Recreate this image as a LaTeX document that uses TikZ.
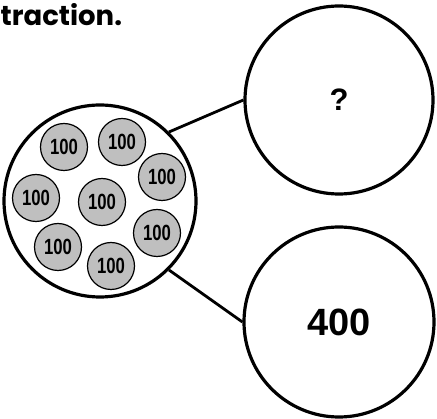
\documentclass[tikz,border=0pt]{standalone}
\usepackage{fontspec}
\usepackage{graphicx}
\newfontfamily\titlefont{Poppins}
\newfontfamily\numfont{Liberation Sans}
\tikzset{
  bigcircle/.style={circle, draw=black, line width=3.2pt, minimum size=#1, inner sep=0pt},
  coin/.style={circle, draw=black, line width=1.2pt, fill=black!25, minimum size=47pt, inner sep=0pt,
     font=\numfont\bfseries\fontsize{22}{22}\selectfont},
  link/.style={draw=black, line width=2.8pt},
}
\newcommand{\hund}{\scalebox{0.76}[1]{100}}
\begin{document}
\begin{tikzpicture}[x=1pt,y=-1pt]
\useasboundingbox (0,0) rectangle (437,419);
\clip (0,0) rectangle (437,419);
\fill[white] (0,0) rectangle (437,419);
\node[anchor=base west, inner sep=0pt, font=\titlefont\bfseries\fontsize{27.5}{28}\selectfont] (title) at (0.5,26) {traction.};
\node[bigcircle=192pt] (whole) at (100,201) {};
\node[bigcircle=188pt, font=\numfont\bfseries\fontsize{31}{31}\selectfont] (top) at (339,100) {?};
\node[bigcircle=190pt, font=\numfont\bfseries\fontsize{38}{38}\selectfont] (bot) at (339,322) {400};
\node[coin] (c1) at (64,147) {\hund};
\node[coin] (c2) at (122,142) {\hund};
\node[coin] (c3) at (162,177) {\hund};
\node[coin] (c4) at (36,198) {\hund};
\node[coin] (c5) at (102,202) {\hund};
\node[coin] (c6) at (157,233) {\hund};
\node[coin] (c7) at (58,247) {\hund};
\node[coin] (c8) at (111,266) {\hund};
\draw[link] (whole.45) -- (top.west);
\draw[link] (whole.-45) -- (bot.west);
\end{tikzpicture}
\end{document}
